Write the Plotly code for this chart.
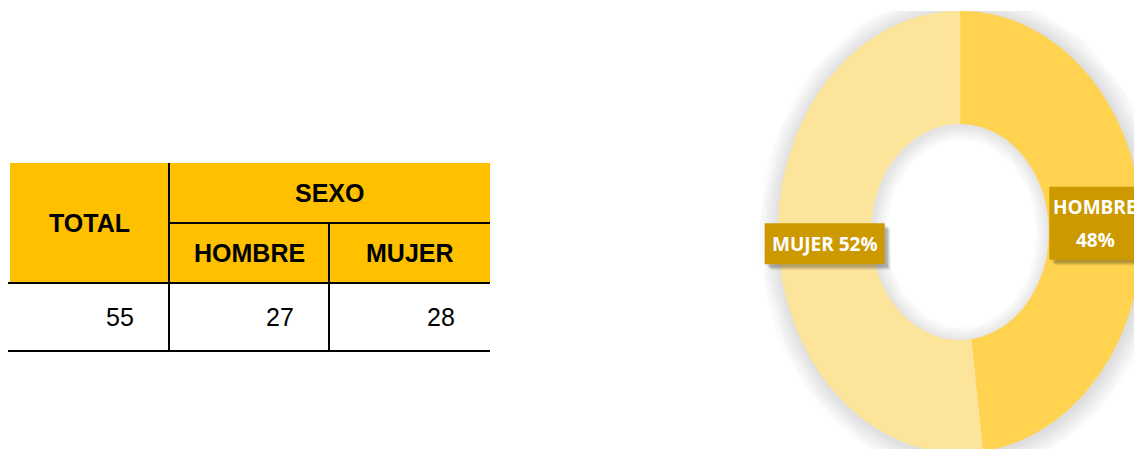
import numpy as np
import plotly.graph_objects as go

# ---------------- data ----------------
table_group_label = "SEXO"
table_total_label = "TOTAL"
sex_categories = ["HOMBRE", "MUJER"]
sex_counts = [27, 28]
total_count = 55

donut_categories = ["HOMBRE", "MUJER"]
donut_pct = [48, 52]

# ---------------- layout / style ----------------
W, H = 1134, 449
TOP = 11  # top of the chart plot area (shadow is clipped here)
col_edges = [10, 169, 329, 490]
row_edges = [163, 223, 283, 351]
HEADER_FILL = "#FFC000"
TABLE_FONT = "Liberation Sans, Arial, sans-serif"

cx, cy = 960, 232
rx_out, ry_out = 182, 221
hole = 0.49
slice_colors = ["#FFD24F", "#FDE49B"]
label_bg = "#CC9900"
label_wrap = [True, False]
label_box = [(92, 73), (120, 41)]
LABEL_FONT = "Open Sans, Lato, sans-serif"

fig = go.Figure()


def ell(rx, ry, t0, t1, n=200, dx=0.0, dy=0.0):
    th = np.radians(np.linspace(t0, t1, n))
    return cx + dx + rx * np.sin(th), cy + dy - ry * np.cos(th)


rx_in, ry_in = rx_out * hole, ry_out * hole

# soft shadow around the ring (outer edge and inside the hole)
for rx, ry, wmax, a in [(rx_out, ry_out, 44, 0.011), (rx_in, ry_in, 28, 0.014)]:
    for w in range(4, wmax + 1, 4):
        x, y = ell(rx, ry, 0, 360, 300, 1.5, 1.5)
        fig.add_trace(go.Scatter(x=x, y=y, mode="lines",
                                 line=dict(color=f"rgba(0,0,0,{a})", width=w),
                                 hoverinfo="skip", showlegend=False))

# donut slices
start = 0.0
mids = []
for cat, p, col in zip(donut_categories, donut_pct, slice_colors):
    a0 = start
    a1 = start + p / sum(donut_pct) * 360
    xo, yo = ell(rx_out, ry_out, a0, a1)
    xi, yi = ell(rx_in, ry_in, a1, a0)
    fig.add_trace(go.Scatter(x=np.r_[xo, xi, xo[:1]], y=np.r_[yo, yi, yo[:1]],
                             mode="lines", fill="toself", fillcolor=col,
                             line=dict(color=col, width=0.5),
                             hoverinfo="skip", showlegend=False, name=cat))
    mids.append((a0 + a1) / 2)
    start = a1

shapes = []
annotations = []

# data labels
rmx, rmy = (rx_out + rx_in) / 2, (ry_out + ry_in) / 2
for cat, p, m, wrap, (bw, bh) in zip(donut_categories, donut_pct, mids, label_wrap, label_box):
    lx = cx + rmx * np.sin(np.radians(m))
    ly = cy - rmy * np.cos(np.radians(m)) + 1.5
    for off, a in [(6, 0.05), (5, 0.07), (4, 0.09), (3, 0.11)]:
        shapes.append(dict(type="rect", xref="x", yref="y",
                           x0=lx - bw / 2 + off, x1=lx + bw / 2 + off,
                           y0=ly - bh / 2 + off, y1=ly + bh / 2 + off,
                           fillcolor=f"rgba(0,0,0,{a})", line=dict(width=0), layer="above"))
    shapes.append(dict(type="rect", xref="x", yref="y",
                       x0=lx - bw / 2, x1=lx + bw / 2, y0=ly - bh / 2, y1=ly + bh / 2,
                       fillcolor=label_bg, line=dict(width=0), layer="above"))
    lines = [cat, f"{p}%"] if wrap else [f"{cat} {p}%"]
    n = len(lines)
    for i, t in enumerate(lines):
        annotations.append(dict(x=lx, y=ly + (i - (n - 1) / 2) * 33, xref="x", yref="y",
                                text=t, showarrow=False, xanchor="center", yanchor="middle",
                                font=dict(family=LABEL_FONT, size=19, color="white", weight="bold")))

# ---------------- table ----------------
shapes.append(dict(type="rect", xref="x", yref="y", x0=col_edges[0], x1=col_edges[3],
                   y0=row_edges[0], y1=row_edges[2], fillcolor=HEADER_FILL,
                   line=dict(width=0), layer="below"))
LW = 2
tl = [
    (8, col_edges[3], row_edges[2], row_edges[2]),
    (8, col_edges[3], row_edges[3], row_edges[3]),
    (col_edges[1], col_edges[3], row_edges[1], row_edges[1]),
    (col_edges[1], col_edges[1], row_edges[0], row_edges[3]),
    (col_edges[2], col_edges[2], row_edges[1], row_edges[3]),
]
for x0, x1, y0, y1 in tl:
    shapes.append(dict(type="line", xref="x", yref="y", x0=x0, x1=x1, y0=y0, y1=y1,
                       line=dict(color="black", width=LW), layer="above"))

hfont = dict(family=TABLE_FONT, size=25, color="black", weight="bold")
vfont = dict(family=TABLE_FONT, size=25, color="black")


def cell_text(t, x, y, font, xanchor="center"):
    annotations.append(dict(x=x, y=y, xref="x", yref="y", text=t, showarrow=False,
                            xanchor=xanchor, yanchor="middle", font=font))


cell_text(table_total_label, (col_edges[0] + col_edges[1]) / 2, (row_edges[0] + row_edges[2]) / 2, hfont)
cell_text(table_group_label, (col_edges[1] + col_edges[3]) / 2, (row_edges[0] + row_edges[1]) / 2, hfont)
for i, cat in enumerate(sex_categories):
    cell_text(cat, (col_edges[i + 1] + col_edges[i + 2]) / 2, (row_edges[1] + row_edges[2]) / 2, hfont)
values = [total_count] + sex_counts
for i, v in enumerate(values):
    cell_text(str(v), col_edges[i + 1] - 33, (row_edges[2] + row_edges[3]) / 2, vfont, xanchor="right")

fig.update_layout(
    width=W, height=H, margin=dict(l=0, r=0, t=TOP, b=0),
    paper_bgcolor="white", plot_bgcolor="white", showlegend=False,
    xaxis=dict(range=[0, W], visible=False, fixedrange=True),
    yaxis=dict(range=[H, TOP], visible=False, fixedrange=True),
    shapes=shapes, annotations=annotations,
)

fig.write_html("out.html", config={"displayModeBar": False},
               post_script="document.body.style.margin='0';")
